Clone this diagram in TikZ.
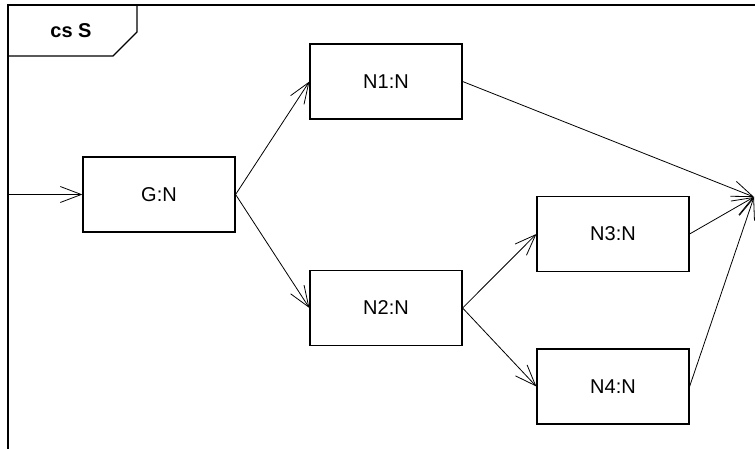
\documentclass[tikz,border=0pt]{standalone}
\usepackage{fontspec}
\setmainfont{Liberation Sans}
\usetikzlibrary{arrows.meta}
\begin{document}
\begin{tikzpicture}[x=1pt,y=-1pt,
  obj/.style={draw, line width=1.2pt, minimum width=152pt, minimum height=75pt, inner sep=0pt, font=\fontsize{20}{24}\selectfont},
  frameline/.style={line width=1.1pt},
  flow/.style={line width=0.8pt, -{Straight Barb[length=21pt,width=16pt,line width=0.8pt]}}]
\useasboundingbox (0,0) rectangle (755,449);
\draw[frameline] (8,449) -- (8,5) -- (755,5);
\draw[frameline] (137,5) -- (137,32) -- (113,56) -- (8,56);
\node[font=\bfseries\fontsize{20}{24}\selectfont] (title) at (71,31) {cs S};
\node[obj] (G) at (159,194.5) {G:N};
\node[obj] (N1) at (386,81.5) {N1:N};
\node[obj] (N2) at (386,308) {N2:N};
\node[obj] (N3) at (613,234) {N3:N};
\node[obj] (N4) at (613,386.5) {N4:N};
\coordinate (entry) at (8,194.5);
\coordinate (exit) at (754,197);
\draw[flow] (entry) -- (G.west);
\draw[flow] (G.east) -- (N1.west);
\draw[flow] (G.east) -- (N2.west);
\draw[flow] (N2.east) -- (N3.west);
\draw[flow] (N2.east) -- (N4.west);
\draw[flow] (N1.east) -- (exit);
\draw[flow] (N3.east) -- (exit);
\draw[flow] (N4.east) -- (exit);
\end{tikzpicture}
\end{document}
